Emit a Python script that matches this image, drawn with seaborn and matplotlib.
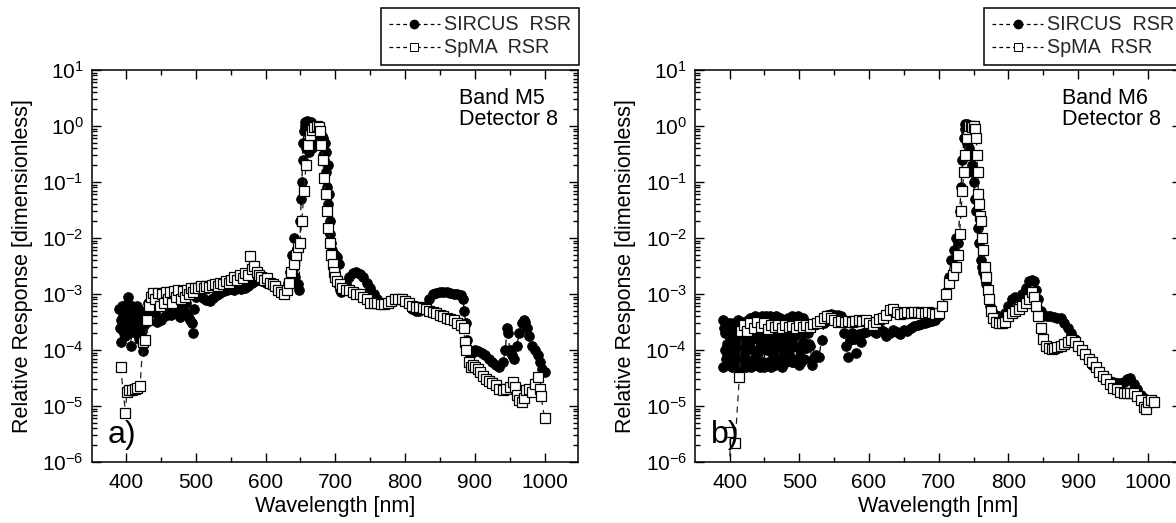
import matplotlib
matplotlib.use("Agg")
import matplotlib.pyplot as plt
import seaborn as sns
import pandas as pd
from matplotlib.lines import Line2D
from matplotlib.ticker import LogLocator, MultipleLocator, NullFormatter, LogFormatterSciNotation

# ---------------- data ----------------
# Panel a) Band M5, Detector 8
a_sircus_wl = [390, 391, 392, 393, 394, 395, 396, 397, 398, 399, 400, 401, 402, 403, 404, 405, 406, 407, 408, 409,
               410, 411, 412, 413, 414, 415, 416, 417, 418, 419, 420, 421, 422, 423, 424, 425, 427, 430,
               432, 435, 438, 441, 444, 447, 450, 453, 456, 459, 462, 465, 468, 471, 474, 477, 480, 483, 486, 489,
               492, 494, 496, 498, 500,
               505, 510, 515, 520, 525, 530, 535, 540, 545, 550, 555, 560, 565, 570, 575, 580, 585, 590, 595, 600,
               605, 610, 615, 620,
               624, 628, 632, 635, 638, 640, 641, 642, 644, 646, 648, 650, 651, 652, 653, 654, 655, 656, 657, 658,
               659, 660, 661, 662, 663, 664, 665, 666, 667, 668, 670, 672, 674, 676, 678, 680, 681, 682, 683, 684,
               685, 686, 687, 688, 689, 690, 691, 692, 693, 694, 695, 696, 697, 698, 699, 700, 701, 702, 703, 704,
               705, 706, 708, 710, 715, 720, 725, 730, 735, 740, 745, 750, 755, 760, 765, 770, 775, 780, 785, 790,
               795, 800, 805, 810, 815, 820, 825, 830, 835, 840, 845, 850, 855, 860, 865, 870, 875, 880, 883, 885,
               887, 889, 891, 893, 896, 900, 905, 910, 915, 920, 925, 930, 935, 940, 944, 946, 948, 950, 953, 956,
               960, 964, 968, 970, 972, 975, 978, 982, 986, 990, 994, 997, 1000]
a_sircus_val = [5.5e-4, 2.5e-4, 1.4e-4, 3.5e-4, 6e-4, 2.2e-4, 4e-4, 3e-4, 1.8e-4, 4.5e-4, 2.6e-4, 6.5e-4, 9e-4, 3.2e-4,
                2e-4, 5e-4, 2.8e-4, 1.2e-4, 3.8e-4, 6e-4,
                2.4e-4, 4.2e-4, 3e-4, 5.5e-4, 2e-4, 3.4e-4, 6e-4, 2.6e-4, 4e-4, 1.6e-4, 3e-4, 5e-4, 2.2e-4, 3.6e-4,
                9.5e-5, 2.8e-4, 4.5e-4, 3.2e-4,
                7e-4, 5e-4, 8e-4, 4.5e-4, 3.2e-4, 6.5e-4, 3.5e-4, 8.5e-4, 4e-4, 5.5e-4, 7.5e-4, 4.2e-4, 9e-4, 4.6e-4,
                6e-4, 3.9e-4, 8e-4, 5e-4, 7e-4, 4e-4,
                3.5e-4, 3e-4, 2e-4, 5.5e-4, 9e-4,
                1.0e-3, 8.5e-4, 7.8e-4, 7.5e-4, 8.5e-4, 9.5e-4, 1.05e-3, 1.15e-3, 1.2e-3, 1.25e-3, 1.2e-3, 1.3e-3,
                1.25e-3, 1.3e-3, 1.4e-3, 1.6e-3, 1.7e-3, 1.8e-3, 1.7e-3, 1.6e-3,
                1.5e-3, 1.4e-3, 1.3e-3, 1.2e-3,
                1.1e-3, 1.2e-3, 1.6e-3, 2.5e-3, 5e-3, 1e-2, 3e-3, 2e-3, 5e-3, 1.5e-3, 1.2e-3, 2e-2, 5e-2, 1e-1, 2.5e-1,
                5e-1, 8e-1, 1.0, 1.2, 0.4,
                1.25, 0.5, 1.2, 0.35, 1.1, 0.5, 1.2, 0.4, 0.9, 0.5, 0.7, 0.9, 1.0, 0.8, 0.6, 0.5, 0.65, 0.3, 0.6, 0.25,
                0.5, 0.15, 0.35, 0.08, 0.2, 0.04, 0.06, 0.02, 0.012, 0.008, 0.006, 0.004, 0.0055, 0.003, 0.005, 0.0025,
                0.004, 0.0018, 0.0045, 0.0015,
                0.0035, 0.0012, 0.0011, 0.0013, 0.0016, 0.002, 0.0024, 0.0025, 0.0023, 0.002, 0.0016, 0.0013, 0.001,
                0.0008, 0.0007, 0.00068, 0.0007, 0.00075, 0.0008, 0.00082,
                0.0008, 0.00075, 0.00065, 0.00055, 0.0005, 0.0005, 0.00055, 0.0006, 0.0008, 0.001, 0.00105, 0.0011,
                0.0011, 0.00108, 0.00105, 0.001, 0.001, 0.00095, 0.0008, 0.0005,
                0.0003, 0.00015, 0.0001, 0.00008, 0.00009, 0.0001, 0.000095, 0.00009, 0.00008, 0.00007, 0.00006,
                0.000055, 0.00005, 0.00006, 0.0001, 0.00025, 0.0002, 0.0001, 0.00008, 0.00007,
                0.00012, 0.0002, 0.0003, 0.00034, 0.00032, 0.00025, 0.00018, 0.00012, 0.0001, 0.00008, 0.00006,
                0.000045, 0.00004]

a_spma_wl = [392, 399, 401, 404, 408, 412, 416, 420, 424, 427, 430, 433, 436, 439, 442, 445, 448, 451, 454, 457,
             460, 463, 466, 469, 472, 475, 478, 481, 484, 487, 490, 493, 496, 499, 503, 507, 511, 515, 519, 523,
             527, 531, 535, 539, 543, 547, 551, 555, 559, 563, 567, 571, 575, 578, 581, 584, 587, 590, 594, 598,
             602, 606, 610, 614, 618, 622, 626, 630, 634, 637, 640, 643, 646, 649, 652, 655, 658, 661, 664, 667,
             670, 673, 676, 678, 680, 682, 684, 686, 688, 690, 692, 694, 696, 698, 700, 703, 706, 710, 715, 720,
             725, 730, 735, 740, 745, 750, 755, 760, 765, 770, 775, 780, 785, 790, 795, 800, 805, 810, 815, 820,
             825, 830, 835, 840, 845, 850, 855, 860, 865, 870, 875, 880, 884, 886, 888, 891, 894, 897, 900, 904,
             908, 912, 916, 920, 925, 930, 935, 940, 945, 950, 955, 958, 961, 964, 967, 970, 974, 978, 982, 986,
             990, 993, 995, 1000]
a_spma_val = [5e-5, 7.5e-6, 1.8e-5, 1.9e-5, 1.9e-5, 2.0e-5, 2.1e-5, 2.3e-5, 1.4e-4, 1.5e-4, 3.5e-4, 6e-4, 9e-4,
              1.05e-3, 8e-4, 1.05e-3, 6e-4, 1.0e-3, 7e-4, 1.1e-3,
              8e-4, 1.1e-3, 7e-4, 1.15e-3, 9e-4, 1.2e-3, 8e-4, 1.15e-3, 9e-4, 1.2e-3, 1.0e-3, 1.3e-3, 1.1e-3, 1.3e-3,
              1.3e-3, 1.4e-3, 1.3e-3, 1.4e-3, 1.35e-3, 1.45e-3,
              1.5e-3, 1.4e-3, 1.6e-3, 1.5e-3, 1.7e-3, 1.6e-3, 1.8e-3, 2.0e-3, 1.8e-3, 2.2e-3, 1.9e-3, 2.4e-3, 2.2e-3,
              4.8e-3, 2.8e-3, 3.2e-3, 2.5e-3, 2.2e-3, 2.0e-3, 1.8e-3,
              1.9e-3, 1.6e-3, 1.5e-3, 1.4e-3, 1.2e-3, 1.1e-3, 1.0e-3, 1.2e-3, 1.6e-3, 2.5e-3, 3.5e-3, 5e-3, 7e-3,
              8e-3, 2e-2, 7e-2, 0.2, 0.45, 0.7, 0.85,
              0.95, 1.0, 0.95, 0.8, 0.45, 0.25, 0.12, 0.06, 0.03, 0.015, 0.008, 0.005, 0.0035, 0.0025, 0.002, 0.0017,
              0.0015, 0.0013, 0.0012, 0.0012,
              0.0011, 0.001, 0.001, 0.0009, 0.0008, 0.0007, 0.00068, 0.00068, 0.00066, 0.00065, 0.0007, 0.00075,
              0.0008, 0.00082, 0.0008, 0.00075, 0.0007, 0.00062, 0.00058, 0.00058,
              0.00056, 0.00055, 0.0005, 0.00048, 0.00045, 0.00042, 0.0004, 0.00038, 0.00036, 0.00034, 0.0003,
              0.00028, 0.00025, 0.00014, 0.0001, 0.00006, 0.00005, 0.000055, 0.00005, 0.000045,
              0.00004, 0.000035, 0.00003, 0.000028, 0.000026, 0.000024, 0.00002, 0.000019, 0.00002, 0.000022,
              0.000027, 0.000022, 0.000016, 0.000013, 0.000012, 0.000014, 0.000019, 0.00002, 0.000018, 0.000025,
              0.000033, 0.00002, 0.000015, 0.000006]

# Panel b) Band M6, Detector 8
b_sircus_wl = [390, 391, 392, 393, 394, 395, 396, 397, 398, 399, 400, 401, 402, 403, 404, 405, 406, 407, 408, 409,
               410, 411, 412, 413, 414, 415, 416, 417, 418, 419, 420, 421, 422, 423, 424, 425, 426, 427, 428, 429,
               430, 431, 432, 433, 434, 435, 436, 437, 438, 439, 440, 441, 442, 443, 444, 445, 446, 447, 448, 449,
               450, 451, 452, 453, 454, 455, 456, 457, 458, 459, 460, 461, 462, 463, 464, 465, 466, 467, 468, 469,
               470, 471, 472, 473, 474, 475, 476, 477, 478, 479, 480, 481, 482, 483, 484, 485, 486, 487, 488, 489,
               490, 491, 492, 493, 494, 495, 496, 497, 498, 499, 500, 501, 502, 503, 504, 505, 506, 507, 508, 509,
               510, 512, 514, 516, 518, 520, 524, 528, 532, 536,
               540, 545, 550, 555, 560, 564, 567, 570, 573, 576, 579, 582, 585, 588, 592, 596, 600, 605, 610, 615,
               620, 625, 630, 635, 640, 645, 650, 655, 660, 665, 670, 675, 680, 685, 690, 695, 700, 705, 710, 714,
               718, 722, 725, 728, 730, 732, 734, 736, 737, 738, 739, 740, 741, 742, 743, 744, 745, 746, 747, 748,
               750, 752, 754, 756, 758, 760, 762, 764, 766, 768, 770, 772, 774, 776, 780, 785, 790, 795, 800, 805,
               810, 815, 820, 825, 830, 834, 837, 840, 843, 846, 850, 855, 860, 865, 870, 875, 880, 885, 890, 895,
               900, 905, 910, 915, 920, 925, 930, 935, 940, 945, 950, 955, 960, 965, 970, 975, 980, 985, 990, 995]
b_sircus_val = [3.5e-4, 5e-5, 2.5e-4, 1e-4, 2e-4, 7e-5, 3e-4, 1.2e-4, 2.2e-4, 6e-5, 1.5e-4, 3e-4, 9e-5, 2e-4, 5e-5,
                2.8e-4, 1.2e-4, 3e-4, 7e-5, 2.4e-4,
                5e-5, 1.6e-4, 3.5e-4, 9e-5, 2.4e-4, 6e-5, 3e-4, 1.3e-4, 5e-5, 2.2e-4, 3.2e-4, 8e-5, 1.8e-4, 5e-5,
                2.7e-4, 1.1e-4, 3.4e-4, 6.5e-5, 2e-4, 1.4e-4,
                3.8e-4, 5e-5, 2.5e-4, 1e-4, 3.6e-4, 7e-5, 1.7e-4, 4e-4, 5.5e-5, 2.3e-4, 3.8e-4, 9e-5, 1.5e-4, 5e-5,
                3.2e-4, 1.2e-4, 4e-4, 6e-5, 2.1e-4, 3.5e-4,
                5e-5, 2.6e-4, 4e-4, 1e-4, 1.8e-4, 6e-5, 3.6e-4, 1.3e-4, 4e-4, 5e-5, 2.4e-4, 3.8e-4, 8e-5, 1.6e-4,
                3.4e-4, 5.5e-5, 2.2e-4, 4e-4, 1.1e-4, 6e-5,
                3e-4, 1.4e-4, 3.7e-4, 7e-5, 2.5e-4, 5e-5, 1.9e-4, 3.4e-4, 9e-5, 1.2e-4, 3.2e-4, 6e-5, 2.6e-4, 1.5e-4,
                3.8e-4, 8e-5, 2e-4, 1.1e-4, 3.5e-4, 6e-5,
                4e-4, 1.7e-4, 6e-5, 3.3e-4, 1.2e-4, 3.8e-4, 7e-5, 2.3e-4, 4e-4, 5.5e-5, 3.6e-4, 1e-4, 2.1e-4, 6e-5,
                3.4e-4, 1.4e-4, 3.8e-4, 7e-5, 2.8e-4, 1.1e-4,
                3e-4, 2e-4, 1.3e-4, 1.2e-4, 5.3e-5, 7e-5, 8e-5, 7.5e-5, 1.5e-4, 3e-4,
                4.2e-4, 4.4e-4, 4.2e-4, 4.3e-4, 4e-4, 2e-4, 1.2e-4, 7.5e-5, 1.5e-4, 2e-4, 1.6e-4, 9e-5, 1.9e-4,
                1.4e-4, 2e-4, 2.1e-4, 2.4e-4, 2.2e-4, 2.0e-4, 2.5e-4,
                2.2e-4, 1.8e-4, 2.0e-4, 2.3e-4, 2.1e-4, 1.9e-4, 2.3e-4, 2.2e-4, 2.5e-4, 2.7e-4, 2.8e-4, 2.9e-4,
                3.0e-4, 3.2e-4, 3.3e-4, 3.5e-4, 4e-4, 6e-4, 1.1e-3, 2e-3,
                4e-3, 6e-3, 1e-2, 8e-3, 3e-2, 8e-2, 0.25, 0.6, 0.9, 1.1, 0.7, 1.1, 0.5, 1.05, 0.4, 1.0, 0.6, 0.3, 0.15,
                0.2,
                0.1, 0.05, 0.03, 0.015, 0.008, 0.004, 0.003, 0.0025, 0.002, 0.0015, 0.0012, 0.0008, 0.0006, 0.0005,
                0.00042, 0.0004, 0.0004, 0.00045, 0.0006, 0.0008,
                0.0009, 0.00085, 0.001, 0.0013, 0.0017, 0.0018, 0.0017, 0.0012, 0.0008, 0.0005, 0.0004, 0.0004, 0.0004,
                0.00039, 0.00038, 0.00037, 0.0003, 0.00025, 0.0002, 0.00016,
                0.00012, 0.0001, 0.00008, 0.000065, 0.000055, 0.000048, 0.00004, 0.000035, 0.00003, 0.000028,
                0.000027, 0.000026, 0.000026, 0.000027, 0.00003, 0.000031, 0.000025, 0.00002, 0.000016, 0.000014]

b_spma_wl = [398, 401, 408, 414, 417, 420, 425, 430, 435, 440, 445, 450, 455, 460, 465, 470, 475, 480, 485, 490,
             495, 500, 505, 510, 515, 520, 525, 530, 535, 540, 545, 550, 555, 560, 565, 570, 575, 580, 585, 590,
             595, 600, 605, 610, 615, 620, 625, 630, 635, 640, 645, 650, 655, 660, 665, 670, 675, 680, 685, 690,
             695, 700, 705, 710, 715, 720, 725, 728, 730, 732, 734, 736, 738, 740, 742, 744, 746, 748, 750, 752,
             754, 755, 756, 757, 758, 759, 760, 762, 764, 766, 768, 770, 772, 775, 778, 782, 786, 790, 795, 800,
             805, 810, 815, 820, 825, 830, 834, 837, 840, 843, 846, 850, 854, 858, 862, 866, 870, 875, 880, 885,
             890, 895, 900, 905, 910, 915, 920, 925, 930, 935, 940, 945, 950, 955, 960, 965, 970, 975, 980, 985,
             990, 994, 997, 1000, 1004, 1008]
b_spma_val = [1e-8, 3.5e-6, 2.2e-6, 3.3e-5, 2.2e-4, 2.8e-4, 2.2e-4, 3e-4, 2.5e-4, 3.2e-4, 2.6e-4, 3e-4, 2.4e-4,
              2.8e-4, 2.6e-4, 2.8e-4, 2.5e-4, 2.8e-4, 2.6e-4, 2.7e-4,
              2.5e-4, 2.8e-4, 2.6e-4, 2.8e-4, 2.6e-4, 2.9e-4, 3.0e-4, 3.3e-4, 3.8e-4, 4.0e-4, 3.8e-4, 3.4e-4, 3.2e-4,
              3.3e-4, 3.1e-4, 3.3e-4, 3.2e-4, 3.3e-4, 3.4e-4, 3.3e-4,
              3.5e-4, 3.0e-4, 2.8e-4, 3.2e-4, 3.6e-4, 3.8e-4, 4.2e-4, 5.2e-4, 5.5e-4, 4.8e-4, 4.4e-4, 4.6e-4,
              4.8e-4, 4.5e-4, 4.7e-4, 4.8e-4, 4.5e-4, 4.6e-4, 4.7e-4, 4.5e-4,
              4.4e-4, 4.6e-4, 6e-4, 1e-3, 1.6e-3, 2.2e-3, 3e-3, 5e-3, 0.012, 0.03, 0.07, 0.15, 0.3, 0.6, 0.9, 1.0,
              1.0, 0.95, 1.0, 0.9,
              0.6, 0.3, 0.15, 0.06, 0.04, 0.025, 0.02, 0.01, 0.006, 0.003, 0.002, 0.0012, 0.0008, 0.0005, 0.00038,
              0.00032, 0.0003, 0.0003, 0.00032, 0.0004,
              0.00045, 0.0005, 0.00055, 0.0006, 0.0007, 0.0008, 0.0011, 0.0009, 0.0006, 0.0004, 0.00025, 0.00016,
              0.00012, 0.00011, 0.000105, 0.00011, 0.000115, 0.00012, 0.00013, 0.00014,
              0.00015, 0.00014, 0.00012, 0.0001, 0.000085, 0.00007, 0.00006, 0.00005, 0.00004, 0.000035, 0.00003,
              0.000025, 0.000021, 0.00002, 0.000018, 0.000017, 0.000017, 0.000017, 0.000017, 0.000015,
              0.000013, 0.0000095, 0.000009, 0.000012, 0.000013, 0.000012]

series_labels = ["SIRCUS  RSR", "SpMA  RSR"]
panel_tags = ["a)", "b)"]
band_texts = ["Band M5\nDetector 8", "Band M6\nDetector 8"]
x_label = "Wavelength [nm]"
y_label = "Relative Response [dimensionless]"

# ---------------- style ----------------
sns.set_theme(style="white")
plt.rcParams["font.family"] = ["Liberation Sans", "DejaVu Sans"]
plt.rcParams["mathtext.fontset"] = "custom"
plt.rcParams["mathtext.rm"] = "Liberation Sans"
plt.rcParams["mathtext.it"] = "Liberation Sans:italic"
plt.rcParams["mathtext.bf"] = "Liberation Sans:bold"
plt.rcParams["axes.unicode_minus"] = False

W, H = 1176, 523
fig = plt.figure(figsize=(W / 100, H / 100), dpi=100)
fig.patch.set_facecolor("white")

ax_bottom, ax_top = 462, 70
ax_w = 486
ax_a = fig.add_axes([92 / W, 1 - ax_bottom / H, ax_w / W, (ax_bottom - ax_top) / H])
ax_b = fig.add_axes([695.4 / W, 1 - ax_bottom / H, ax_w / W, (ax_bottom - ax_top) / H])

dash = (0, (5, 4))


def draw_panel(ax, s_wl, s_val, p_wl, p_val, tag, band):
    df_s = pd.DataFrame({"wl": s_wl, "val": s_val})
    df_p = pd.DataFrame({"wl": p_wl, "val": p_val})
    sns.lineplot(data=df_s, x="wl", y="val", ax=ax, estimator=None, errorbar=None, sort=False,
                 color="black", linestyle=dash, linewidth=0.9, marker="o", markersize=7,
                 markerfacecolor="black", markeredgecolor="black", markeredgewidth=0.6, zorder=2)
    sns.lineplot(data=df_p, x="wl", y="val", ax=ax, estimator=None, errorbar=None, sort=False,
                 color="#222222", linestyle=dash, linewidth=0.9, marker="s", markersize=7,
                 markerfacecolor="white", markeredgecolor="black", markeredgewidth=0.9, zorder=3)
    ax.set_yscale("log")
    ax.set_xlim(351, 1048)
    ax.set_ylim(1e-6, 1e1)
    ax.xaxis.set_major_locator(MultipleLocator(100))
    ax.xaxis.set_minor_locator(MultipleLocator(50))
    ax.yaxis.set_major_locator(LogLocator(base=10, numticks=20))
    ax.yaxis.set_minor_locator(LogLocator(base=10, subs=[2, 3, 4, 5, 6, 7, 8, 9], numticks=50))
    ax.yaxis.set_major_formatter(LogFormatterSciNotation())
    ax.yaxis.set_minor_formatter(NullFormatter())
    ax.tick_params(which="both", direction="in", top=True, right=True, bottom=True, left=True,
                   colors="black", labelsize=15, width=1.0)
    ax.tick_params(which="major", length=6.5, pad=6)
    ax.tick_params(which="minor", length=3.5)
    ax.tick_params(axis="x", which="major", pad=8)
    for sp in ax.spines.values():
        sp.set_color("black")
        sp.set_linewidth(1.1)
    ax.set_xlabel(x_label, fontsize=15.5, color="black")
    ax.set_ylabel(y_label, fontsize=15.5, color="black")
    ax.yaxis.set_label_coords(-0.122, 0.5)
    ax.xaxis.set_label_coords(0.5, -0.086)
    ax.text(0.755, 0.955, band, transform=ax.transAxes, ha="left", va="top", fontsize=15.5,
            linespacing=1.05, color="black")
    ax.text(0.033, 0.03, tag, transform=ax.transAxes, ha="left", va="bottom", fontsize=23, color="black")
    handles = [
        Line2D([], [], color="black", linestyle=(0, (3, 2.5)), linewidth=0.9, marker="o", markersize=6,
               markerfacecolor="black", markeredgecolor="black"),
        Line2D([], [], color="black", linestyle=(0, (3, 2.5)), linewidth=0.9, marker="s", markersize=5.5,
               markerfacecolor="white", markeredgecolor="black", markeredgewidth=0.7),
    ]
    leg = ax.legend(handles, series_labels, loc="lower right", bbox_to_anchor=(1.002, 1.012),
                    borderaxespad=0, fontsize=14.2, frameon=True, fancybox=False, shadow=False,
                    handlelength=2.6, handletextpad=0.2, labelspacing=0.2, borderpad=0.4,
                    numpoints=1)
    leg.get_frame().set_edgecolor("black")
    leg.get_frame().set_linewidth(1.1)
    leg.get_frame().set_facecolor("white")
    leg.get_frame().set_alpha(1)


draw_panel(ax_a, a_sircus_wl, a_sircus_val, a_spma_wl, a_spma_val, panel_tags[0], band_texts[0])
draw_panel(ax_b, b_sircus_wl, b_sircus_val, b_spma_wl, b_spma_val, panel_tags[1], band_texts[1])

fig.savefig("out.png", dpi=100, facecolor="white")
